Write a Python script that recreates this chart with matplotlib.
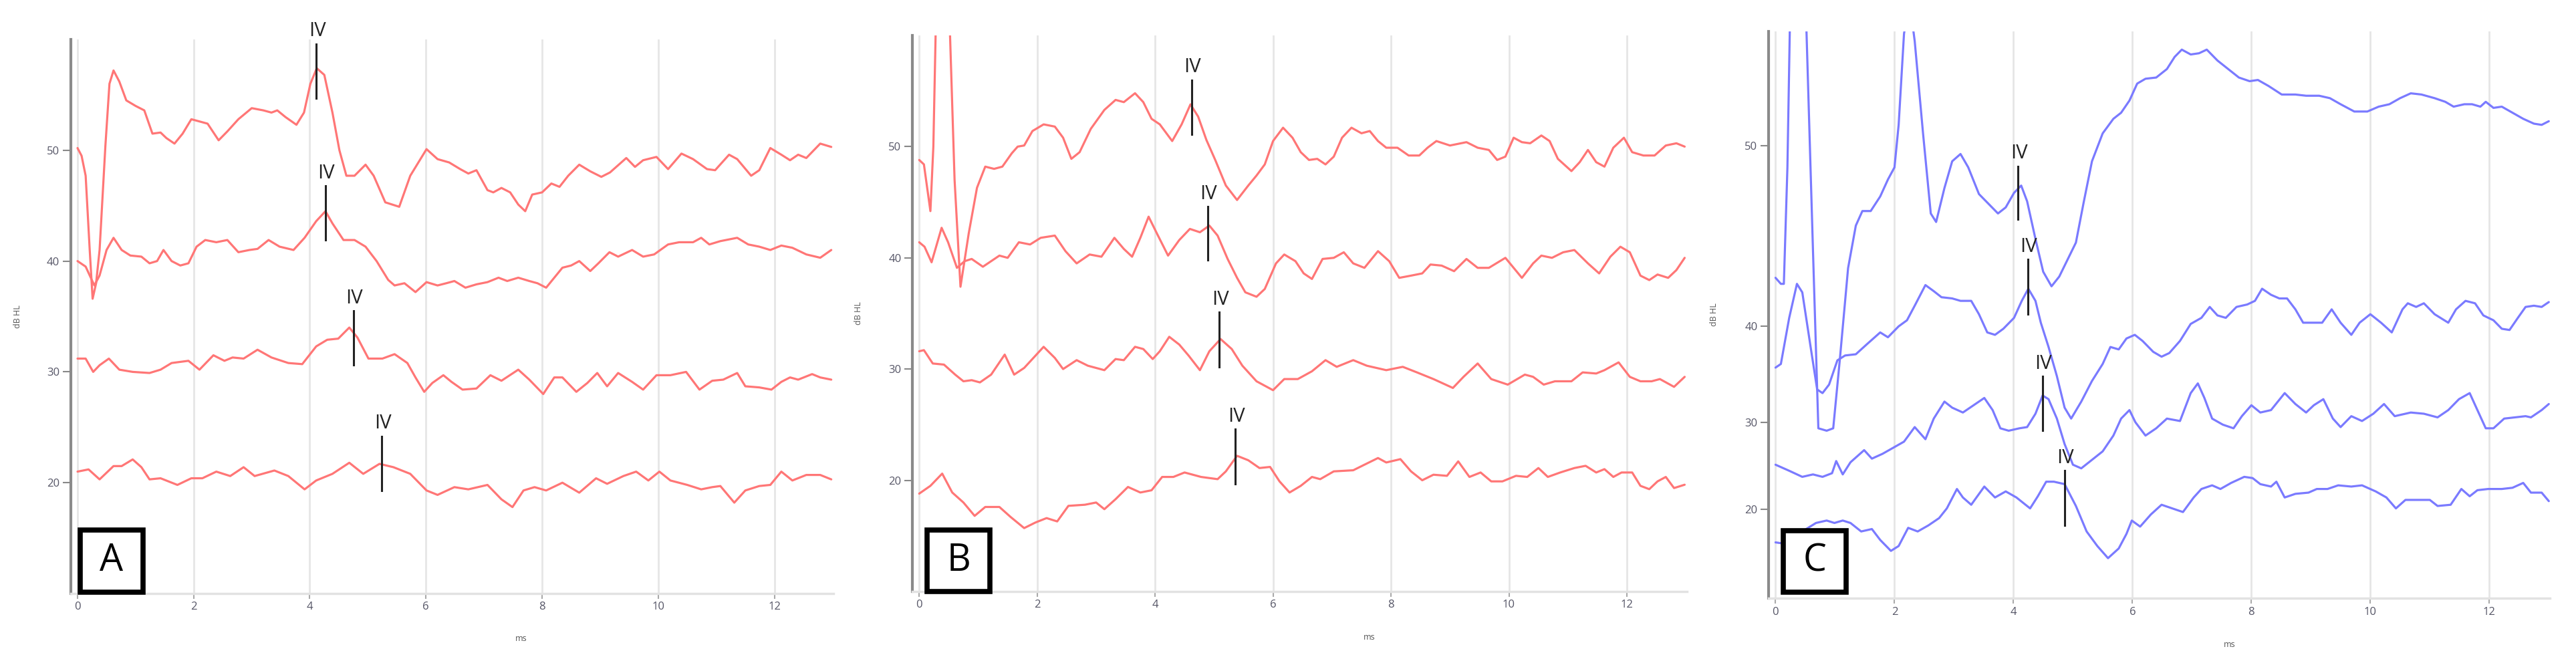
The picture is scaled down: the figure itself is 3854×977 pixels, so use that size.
import matplotlib
matplotlib.use("Agg")
import matplotlib.pyplot as plt
from matplotlib.patches import Rectangle

plt.rcParams['font.family'] = ['Open Sans', 'DejaVu Sans']

# ---- panel A (red) ----
a1_ms = [0, 0.07, 0.14, 0.21, 0.26, 0.32, 0.38, 0.48, 0.55, 0.62, 0.72, 0.84, 1.0, 1.15, 1.29, 1.43, 1.53, 1.67, 1.81, 1.96, 2.1, 2.24, 2.43, 2.58, 2.77, 3.0, 3.2, 3.34, 3.44, 3.58, 3.77, 3.9, 4.01, 4.12, 4.25, 4.39, 4.51, 4.63, 4.77, 4.96, 5.1, 5.3, 5.54, 5.73, 6.01, 6.2, 6.4, 6.59, 6.73, 6.87, 7.06, 7.16, 7.3, 7.45, 7.59, 7.71, 7.83, 8.0, 8.16, 8.3, 8.45, 8.64, 8.83, 9.02, 9.17, 9.45, 9.6, 9.74, 9.97, 10.17, 10.4, 10.6, 10.84, 10.98, 11.22, 11.36, 11.6, 11.74, 11.93, 12.12, 12.27, 12.41, 12.55, 12.79, 12.98]
a1_db = [50.2, 49.5, 47.7, 41.0, 36.6, 38.0, 41.0, 50.4, 56.0, 57.2, 56.2, 54.5, 54.0, 53.6, 51.5, 51.6, 51.1, 50.6, 51.5, 52.8, 52.6, 52.4, 50.9, 51.7, 52.8, 53.8, 53.6, 53.4, 53.6, 53.0, 52.3, 53.4, 56.0, 57.4, 56.8, 53.4, 50.0, 47.7, 47.7, 48.7, 47.7, 45.3, 44.9, 47.7, 50.1, 49.2, 48.9, 48.3, 47.9, 48.2, 46.4, 46.2, 46.6, 46.2, 45.1, 44.5, 46.0, 46.2, 47.0, 46.7, 47.7, 48.7, 48.1, 47.6, 48.0, 49.3, 48.5, 49.1, 49.4, 48.3, 49.7, 49.2, 48.3, 48.2, 49.6, 49.2, 47.7, 48.2, 50.2, 49.6, 49.1, 49.6, 49.3, 50.6, 50.3]

a2_ms = [0, 0.14, 0.29, 0.38, 0.5, 0.62, 0.76, 0.91, 1.1, 1.24, 1.37, 1.48, 1.62, 1.77, 1.91, 2.05, 2.2, 2.39, 2.58, 2.77, 2.96, 3.1, 3.29, 3.48, 3.72, 3.91, 4.11, 4.27, 4.39, 4.58, 4.77, 4.96, 5.15, 5.35, 5.46, 5.63, 5.82, 6.01, 6.2, 6.35, 6.49, 6.68, 6.87, 7.06, 7.25, 7.4, 7.59, 7.78, 7.92, 8.07, 8.21, 8.35, 8.5, 8.64, 8.83, 8.97, 9.16, 9.31, 9.55, 9.74, 9.93, 10.17, 10.36, 10.6, 10.74, 10.88, 11.07, 11.36, 11.55, 11.74, 11.93, 12.12, 12.31, 12.55, 12.79, 12.98]
a2_db = [40.0, 39.5, 37.8, 38.7, 41.0, 42.1, 41.0, 40.5, 40.4, 39.8, 40.0, 41.0, 40.0, 39.6, 39.8, 41.3, 41.9, 41.7, 41.9, 40.8, 41.0, 41.1, 41.9, 41.3, 41.0, 42.1, 43.6, 44.5, 43.4, 41.9, 41.9, 41.3, 40.0, 38.3, 37.8, 38.0, 37.2, 38.1, 37.8, 38.0, 38.2, 37.6, 37.9, 38.1, 38.5, 38.2, 38.5, 38.2, 38.0, 37.6, 38.5, 39.4, 39.6, 40.0, 39.1, 39.8, 40.8, 40.4, 41.0, 40.4, 40.6, 41.5, 41.7, 41.7, 42.1, 41.5, 41.8, 42.1, 41.5, 41.3, 41.0, 41.4, 41.2, 40.6, 40.3, 41.0]

a3_ms = [0, 0.14, 0.27, 0.38, 0.54, 0.72, 0.95, 1.24, 1.43, 1.62, 1.91, 2.1, 2.34, 2.53, 2.67, 2.86, 3.1, 3.34, 3.63, 3.87, 4.11, 4.3, 4.49, 4.68, 4.82, 5.01, 5.25, 5.46, 5.68, 5.82, 5.97, 6.11, 6.3, 6.44, 6.63, 6.87, 7.11, 7.3, 7.59, 7.78, 8.02, 8.21, 8.35, 8.59, 8.78, 8.95, 9.12, 9.31, 9.55, 9.74, 9.97, 10.21, 10.48, 10.71, 10.93, 11.12, 11.36, 11.5, 11.74, 11.95, 12.12, 12.27, 12.41, 12.65, 12.79, 12.98]
a3_db = [31.2, 31.2, 30.0, 30.6, 31.2, 30.2, 30.0, 29.9, 30.2, 30.8, 31.0, 30.2, 31.5, 31.0, 31.3, 31.2, 32.0, 31.3, 30.8, 30.7, 32.3, 32.9, 33.0, 34.0, 33.1, 31.2, 31.2, 31.6, 30.8, 29.5, 28.2, 29.0, 29.7, 29.1, 28.4, 28.5, 29.7, 29.2, 30.2, 29.3, 28.0, 29.5, 29.5, 28.2, 29.0, 29.9, 28.7, 29.9, 29.1, 28.4, 29.7, 29.7, 30.0, 28.4, 29.2, 29.3, 29.9, 28.7, 28.6, 28.4, 29.1, 29.5, 29.3, 29.8, 29.5, 29.3]

a4_ms = [0, 0.19, 0.38, 0.62, 0.76, 0.95, 1.1, 1.24, 1.43, 1.72, 1.96, 2.15, 2.39, 2.63, 2.86, 3.05, 3.39, 3.63, 3.91, 4.11, 4.39, 4.68, 4.92, 5.2, 5.44, 5.73, 6.01, 6.2, 6.49, 6.73, 7.06, 7.3, 7.49, 7.68, 7.87, 8.07, 8.35, 8.64, 8.93, 9.12, 9.4, 9.62, 9.83, 10.02, 10.21, 10.5, 10.74, 10.93, 11.07, 11.31, 11.5, 11.74, 11.93, 12.12, 12.31, 12.55, 12.79, 12.98]
a4_db = [21.0, 21.2, 20.3, 21.5, 21.5, 22.1, 21.4, 20.3, 20.4, 19.8, 20.4, 20.4, 21.0, 20.6, 21.4, 20.6, 21.1, 20.6, 19.4, 20.2, 20.8, 21.8, 20.8, 21.7, 21.4, 20.8, 19.3, 18.9, 19.6, 19.4, 19.8, 18.5, 17.8, 19.3, 19.6, 19.3, 20.0, 19.1, 20.4, 19.9, 20.6, 21.0, 20.2, 21.0, 20.2, 19.8, 19.4, 19.6, 19.7, 18.2, 19.3, 19.7, 19.8, 21.0, 20.2, 20.7, 20.7, 20.3]

a_iv_ms = [4.11, 4.27, 4.75, 5.24]
a_iv_top = [59.6, 46.8, 35.5, 24.2]
a_iv_bot = [54.7, 41.9, 30.6, 19.3]

# ---- panel B (red) ----
b1_ms = [0, 0.08, 0.19, 0.24, 0.28, 0.39, 0.52, 0.6, 0.7, 0.84, 0.98, 1.12, 1.27, 1.41, 1.57, 1.67, 1.78, 1.92, 2.11, 2.3, 2.44, 2.58, 2.72, 2.91, 3.14, 3.33, 3.47, 3.66, 3.8, 3.94, 4.08, 4.29, 4.45, 4.6, 4.73, 4.87, 5.02, 5.2, 5.39, 5.58, 5.72, 5.86, 6.0, 6.17, 6.33, 6.47, 6.61, 6.75, 6.89, 7.03, 7.17, 7.33, 7.5, 7.64, 7.78, 7.92, 8.11, 8.3, 8.48, 8.62, 8.77, 9.0, 9.28, 9.47, 9.66, 9.8, 9.94, 10.08, 10.22, 10.36, 10.55, 10.69, 10.83, 11.06, 11.2, 11.34, 11.48, 11.62, 11.77, 11.95, 12.09, 12.28, 12.47, 12.66, 12.84, 12.98]
b1_db = [48.8, 48.4, 44.2, 50.0, 60.5, 66.0, 60.5, 47.0, 37.4, 42.2, 46.3, 48.2, 48.0, 48.2, 49.4, 50.0, 50.1, 51.4, 52.0, 51.8, 50.8, 48.9, 49.5, 51.6, 53.3, 54.2, 54.0, 54.8, 54.0, 52.5, 52.0, 50.5, 52.0, 53.8, 52.7, 50.6, 48.8, 46.5, 45.2, 46.5, 47.4, 48.4, 50.5, 51.7, 50.8, 49.5, 48.8, 48.9, 48.4, 49.1, 50.8, 51.7, 51.2, 51.4, 50.5, 49.9, 49.9, 49.2, 49.2, 49.9, 50.5, 50.1, 50.4, 49.9, 49.7, 48.8, 49.1, 50.8, 50.4, 50.3, 51.0, 50.5, 48.9, 47.8, 48.6, 49.7, 48.6, 48.2, 49.9, 50.8, 49.5, 49.2, 49.2, 50.1, 50.3, 50.0]

b2_ms = [0, 0.09, 0.21, 0.38, 0.49, 0.64, 0.77, 0.89, 1.08, 1.22, 1.36, 1.5, 1.69, 1.88, 2.06, 2.3, 2.48, 2.67, 2.89, 3.09, 3.31, 3.47, 3.61, 3.75, 3.89, 4.03, 4.22, 4.41, 4.59, 4.76, 4.92, 5.06, 5.23, 5.39, 5.53, 5.72, 5.86, 6.05, 6.19, 6.38, 6.52, 6.66, 6.84, 7.03, 7.2, 7.36, 7.55, 7.78, 7.97, 8.14, 8.34, 8.53, 8.67, 8.86, 9.07, 9.28, 9.47, 9.66, 9.94, 10.22, 10.41, 10.55, 10.73, 10.92, 11.11, 11.34, 11.53, 11.72, 11.89, 12.05, 12.23, 12.38, 12.52, 12.7, 12.84, 12.98]
b2_db = [41.4, 41.0, 39.6, 42.7, 41.4, 39.1, 39.7, 39.9, 39.2, 39.7, 40.2, 40.0, 41.4, 41.2, 41.8, 42.0, 40.6, 39.5, 40.3, 40.1, 41.8, 40.8, 40.1, 41.8, 43.7, 42.2, 40.2, 41.6, 42.6, 42.3, 42.9, 42.0, 39.9, 38.2, 36.9, 36.5, 37.2, 39.5, 40.3, 39.7, 38.6, 38.1, 39.9, 40.0, 40.5, 39.5, 39.1, 40.6, 39.7, 38.2, 38.4, 38.6, 39.4, 39.3, 38.8, 39.9, 39.1, 39.1, 40.0, 38.2, 39.5, 40.2, 40.0, 40.5, 40.7, 39.5, 38.6, 40.1, 41.0, 40.5, 38.4, 38.0, 38.5, 38.2, 38.9, 40.0]

b3_ms = [0, 0.08, 0.23, 0.42, 0.61, 0.75, 0.89, 1.03, 1.22, 1.45, 1.61, 1.78, 2.11, 2.3, 2.44, 2.67, 2.86, 3.14, 3.33, 3.47, 3.66, 3.8, 3.96, 4.08, 4.24, 4.41, 4.57, 4.76, 4.92, 5.11, 5.3, 5.48, 5.72, 6.0, 6.19, 6.42, 6.66, 6.89, 7.08, 7.36, 7.59, 7.92, 8.2, 8.44, 8.72, 9.05, 9.23, 9.47, 9.7, 9.98, 10.27, 10.41, 10.59, 10.78, 11.06, 11.25, 11.48, 11.62, 11.86, 12.05, 12.23, 12.42, 12.56, 12.8, 12.98]
b3_db = [31.6, 31.7, 30.5, 30.4, 29.5, 28.9, 29.0, 28.8, 29.5, 31.3, 29.5, 30.1, 32.0, 31.0, 30.0, 30.8, 30.3, 29.9, 30.9, 30.8, 32.0, 31.8, 30.9, 31.6, 32.9, 32.2, 31.2, 29.9, 31.6, 32.7, 31.8, 30.3, 28.9, 28.1, 29.1, 29.1, 29.8, 30.8, 30.2, 30.8, 30.3, 29.9, 30.2, 29.7, 29.1, 28.3, 29.3, 30.5, 29.1, 28.6, 29.5, 29.3, 28.6, 28.9, 28.9, 29.7, 29.6, 29.9, 30.6, 29.3, 28.9, 28.9, 29.1, 28.4, 29.3]

b4_ms = [0, 0.19, 0.39, 0.56, 0.75, 0.94, 1.12, 1.36, 1.55, 1.78, 1.97, 2.16, 2.34, 2.53, 2.81, 3.0, 3.14, 3.33, 3.54, 3.75, 3.94, 4.12, 4.31, 4.5, 4.78, 5.06, 5.2, 5.39, 5.58, 5.77, 5.95, 6.11, 6.28, 6.47, 6.66, 6.8, 7.03, 7.36, 7.55, 7.78, 7.92, 8.16, 8.34, 8.53, 8.72, 8.95, 9.14, 9.33, 9.52, 9.7, 9.89, 10.12, 10.31, 10.5, 10.66, 10.87, 11.11, 11.3, 11.48, 11.62, 11.77, 11.91, 12.09, 12.23, 12.38, 12.52, 12.66, 12.8, 12.98]
b4_db = [18.8, 19.5, 20.6, 18.9, 18.0, 16.8, 17.6, 17.6, 16.7, 15.7, 16.2, 16.6, 16.3, 17.7, 17.8, 18.0, 17.4, 18.3, 19.4, 18.9, 19.1, 20.3, 20.3, 20.7, 20.3, 20.1, 20.8, 22.2, 21.8, 21.1, 21.2, 19.9, 18.9, 19.5, 20.3, 20.1, 20.8, 20.9, 21.4, 22.0, 21.6, 21.9, 20.8, 20.0, 20.5, 20.4, 21.7, 20.3, 20.7, 19.9, 19.9, 20.4, 20.3, 21.1, 20.3, 20.7, 21.1, 21.3, 20.7, 21.0, 20.3, 20.7, 20.7, 19.5, 19.2, 19.9, 20.3, 19.3, 19.6]

b_iv_ms = [4.62, 4.89, 5.09, 5.36]
b_iv_top = [56.0, 44.6, 35.1, 24.6]
b_iv_bot = [51.1, 39.8, 30.2, 19.7]

# ---- panel C (blue); its dB HL ticks are not evenly spaced ----
c1_ms = [0, 0.09, 0.14, 0.2, 0.24, 0.38, 0.52, 0.63, 0.72, 0.86, 0.97, 1.08, 1.22, 1.35, 1.46, 1.6, 1.76, 1.89, 2.0, 2.07, 2.16, 2.25, 2.34, 2.48, 2.61, 2.7, 2.84, 2.97, 3.11, 3.24, 3.42, 3.6, 3.74, 3.87, 4.01, 4.13, 4.23, 4.37, 4.5, 4.64, 4.77, 4.91, 5.05, 5.18, 5.32, 5.5, 5.68, 5.81, 5.95, 6.08, 6.22, 6.4, 6.58, 6.71, 6.83, 6.98, 7.12, 7.25, 7.43, 7.61, 7.79, 7.97, 8.11, 8.29, 8.51, 8.74, 8.92, 9.14, 9.32, 9.5, 9.73, 9.95, 10.14, 10.32, 10.5, 10.68, 10.86, 11.08, 11.26, 11.4, 11.58, 11.71, 11.85, 11.94, 12.07, 12.21, 12.39, 12.57, 12.75, 12.88, 13.0]
c1_db = [39.1, 38.6, 38.6, 48.2, 59.5, 66.0, 59.5, 41.3, 26.7, 26.5, 26.7, 32.3, 39.9, 43.4, 44.6, 44.6, 45.8, 47.2, 48.2, 51.7, 59.2, 62.0, 58.6, 51.0, 44.4, 43.7, 46.5, 48.7, 49.3, 48.2, 46.0, 45.1, 44.4, 44.9, 46.1, 46.7, 45.4, 42.3, 39.6, 38.4, 39.2, 40.6, 42.0, 45.3, 48.7, 51.0, 52.2, 52.7, 53.7, 55.1, 55.5, 55.6, 56.3, 57.3, 57.9, 57.5, 57.6, 57.9, 57.0, 56.3, 55.6, 55.3, 55.4, 54.9, 54.2, 54.2, 54.1, 54.1, 53.9, 53.4, 52.8, 52.8, 53.2, 53.4, 53.9, 54.3, 54.2, 53.9, 53.6, 53.2, 53.4, 53.4, 53.2, 53.6, 53.1, 53.2, 52.7, 52.2, 51.8, 51.7, 52.0]

c2_ms = [0, 0.09, 0.23, 0.36, 0.45, 0.59, 0.7, 0.79, 0.9, 1.04, 1.17, 1.35, 1.53, 1.76, 1.89, 2.07, 2.21, 2.34, 2.52, 2.66, 2.79, 2.97, 3.11, 3.29, 3.42, 3.56, 3.69, 3.83, 4.01, 4.14, 4.25, 4.37, 4.46, 4.59, 4.73, 4.86, 4.97, 5.14, 5.32, 5.5, 5.63, 5.77, 5.9, 6.04, 6.17, 6.35, 6.49, 6.62, 6.8, 6.98, 7.16, 7.3, 7.43, 7.57, 7.75, 7.93, 8.06, 8.18, 8.33, 8.47, 8.6, 8.74, 8.87, 9.05, 9.19, 9.35, 9.5, 9.68, 9.82, 10.0, 10.18, 10.36, 10.54, 10.63, 10.77, 10.9, 11.08, 11.31, 11.44, 11.6, 11.76, 11.9, 12.07, 12.21, 12.34, 12.48, 12.61, 12.75, 12.88, 13.0]
c2_db = [31.7, 32.0, 35.8, 38.6, 37.9, 33.4, 29.9, 29.6, 30.3, 32.3, 32.7, 32.8, 33.6, 34.6, 34.2, 35.1, 35.6, 36.8, 38.5, 38.0, 37.5, 37.4, 37.2, 37.2, 36.1, 34.6, 34.4, 34.9, 35.8, 37.2, 38.2, 37.2, 35.4, 33.4, 31.0, 28.4, 27.5, 28.9, 30.6, 32.0, 33.4, 33.2, 34.1, 34.4, 33.9, 33.0, 32.6, 32.9, 33.9, 35.3, 35.8, 36.7, 36.0, 35.8, 36.7, 36.9, 37.2, 38.2, 37.7, 37.4, 37.4, 36.5, 35.4, 35.4, 35.4, 36.5, 35.4, 34.4, 35.4, 36.1, 35.4, 34.6, 36.5, 37.0, 36.7, 37.0, 36.1, 35.4, 36.5, 37.2, 37.0, 36.0, 35.6, 34.9, 34.8, 35.8, 36.7, 36.8, 36.7, 37.1]

c3_ms = [0, 0.23, 0.45, 0.63, 0.79, 0.95, 1.02, 1.13, 1.26, 1.49, 1.62, 1.8, 1.98, 2.16, 2.34, 2.52, 2.66, 2.84, 2.97, 3.15, 3.33, 3.51, 3.65, 3.78, 3.92, 4.1, 4.23, 4.37, 4.49, 4.59, 4.73, 4.86, 5.0, 5.14, 5.32, 5.5, 5.68, 5.81, 5.95, 6.05, 6.22, 6.4, 6.58, 6.8, 6.98, 7.1, 7.21, 7.34, 7.52, 7.7, 7.84, 8.0, 8.15, 8.33, 8.56, 8.74, 8.92, 9.05, 9.21, 9.37, 9.5, 9.68, 9.86, 10.05, 10.23, 10.41, 10.68, 10.9, 11.13, 11.31, 11.49, 11.67, 11.8, 11.94, 12.07, 12.25, 12.43, 12.61, 12.7, 12.88, 13.0]
c3_db = [23.7, 23.2, 22.7, 22.9, 22.7, 23.0, 24.0, 22.9, 23.9, 24.9, 24.2, 24.6, 25.1, 25.6, 26.8, 25.8, 27.5, 28.9, 28.4, 28.0, 28.6, 29.2, 28.2, 26.7, 26.5, 26.7, 26.8, 27.9, 29.4, 29.1, 27.5, 25.4, 23.7, 23.4, 24.1, 24.8, 26.1, 27.5, 28.2, 27.2, 26.1, 26.7, 27.5, 27.3, 29.6, 30.4, 29.2, 27.5, 27.0, 26.7, 27.7, 28.6, 28.0, 28.2, 29.6, 28.7, 28.0, 28.6, 29.1, 27.5, 26.8, 27.7, 27.3, 27.9, 28.7, 27.7, 28.0, 27.9, 27.6, 28.2, 29.1, 29.6, 28.2, 26.7, 26.7, 27.5, 27.6, 27.7, 27.6, 28.2, 28.7]

c4_ms = [0, 0.14, 0.27, 0.45, 0.68, 0.86, 0.99, 1.13, 1.26, 1.44, 1.62, 1.76, 1.94, 2.07, 2.23, 2.39, 2.57, 2.75, 2.88, 3.05, 3.15, 3.29, 3.51, 3.69, 3.87, 4.05, 4.28, 4.41, 4.55, 4.68, 4.86, 5.05, 5.23, 5.41, 5.59, 5.77, 5.9, 5.99, 6.13, 6.31, 6.49, 6.67, 6.85, 7.03, 7.16, 7.34, 7.48, 7.66, 7.88, 8.02, 8.15, 8.33, 8.42, 8.56, 8.74, 8.96, 9.1, 9.28, 9.46, 9.68, 9.86, 10.09, 10.27, 10.43, 10.59, 10.77, 11.0, 11.13, 11.35, 11.53, 11.67, 11.8, 11.98, 12.21, 12.39, 12.57, 12.7, 12.88, 13.0]
c4_db = [17.3, 17.2, 17.5, 18.2, 18.9, 19.1, 18.9, 19.1, 18.9, 18.2, 18.4, 17.5, 16.6, 17.0, 18.5, 18.2, 18.7, 19.3, 20.1, 21.7, 21.0, 20.4, 21.9, 21.0, 21.5, 21.0, 20.1, 21.1, 22.3, 22.3, 22.1, 20.3, 18.2, 17.0, 16.0, 16.8, 18.0, 19.1, 18.6, 19.6, 20.4, 20.1, 19.8, 21.0, 21.7, 22.0, 21.7, 22.2, 22.7, 22.6, 22.1, 21.9, 22.3, 21.0, 21.3, 21.4, 21.7, 21.7, 22.0, 21.9, 22.0, 21.5, 21.0, 20.1, 20.8, 20.8, 20.8, 20.3, 20.4, 21.7, 21.1, 21.6, 21.7, 21.7, 21.8, 22.2, 21.4, 21.4, 20.7]

c_iv_ms = [4.08, 4.24, 4.49, 4.86]
c_iv_top = [48.3, 40.6, 31.0, 23.2]
c_iv_bot = [43.9, 36.1, 26.5, 18.7]
c_tick_pos = [20, 27.2, 35.1, 50]
c_tick_lab = ['20', '30', '40', '50']

x_ticks = [0, 2, 4, 6, 8, 10, 12]
RED = '#ff7676'
BLUE = '#7a7aff'

fig = plt.figure(figsize=(38.54, 9.77), dpi=100)


def panel(rect, traces, color, iv_ms, iv_top, iv_bot, letter, ylim, yticks, yticklabels, box):
    ax = fig.add_axes(rect)
    for t, v in traces:
        ax.plot(t, v, color=color, lw=2.3, zorder=3,
                solid_joinstyle='round', solid_capstyle='round')
    for x, top, bot in zip(iv_ms, iv_top, iv_bot):
        ax.plot([x, x], [bot, top], color='#222222', lw=2.2, zorder=4, clip_on=False)
        ax.annotate('IV', (x, top), xytext=(1, 3), textcoords='offset points',
                    ha='center', va='bottom', fontsize=21, color='#222222',
                    annotation_clip=False)
    ax.set_xlim(-0.115, 13.02)
    ax.set_ylim(*ylim)
    ax.set_xticks(x_ticks)
    ax.set_xticklabels([str(x) for x in x_ticks])
    ax.set_yticks(yticks)
    ax.set_yticklabels(yticklabels)
    ax.grid(axis='x', color='#e6e6e6', lw=2, zorder=0)
    for s in ['top', 'right']:
        ax.spines[s].set_visible(False)
    ax.spines['left'].set_color('#8a8a8a')
    ax.spines['left'].set_linewidth(3)
    ax.spines['bottom'].set_color('#e2e2e2')
    ax.spines['bottom'].set_linewidth(2.5)
    ax.tick_params(axis='x', length=6, width=1.5, color='#aaaaaa', labelsize=12,
                   labelcolor='#555566', pad=3)
    ax.tick_params(axis='y', length=9, width=1.5, color='#888888', labelsize=12,
                   labelcolor='#555566', pad=3)
    ax.set_xlabel('ms', fontsize=9, color='#555555')
    ax.xaxis.set_label_coords(0.59, -0.074)
    ax.set_ylabel('dB HL', fontsize=9, color='#555555')
    ax.yaxis.set_label_coords(-0.064, 0.5)
    ax.add_patch(Rectangle((box[0], box[1]), box[2], box[3], transform=ax.transAxes,
                           facecolor='white', edgecolor='black', lw=5.5, zorder=6,
                           clip_on=False))
    ax.text(box[0] + box[2] / 2, box[1] + box[3] / 2, letter, transform=ax.transAxes,
            ha='center', va='center', fontsize=40, color='black', zorder=7)
    return ax


panel([0.0275, 0.0911, 0.2961, 0.8485],
      [(a1_ms, a1_db), (a2_ms, a2_db), (a3_ms, a3_db), (a4_ms, a4_db)], RED,
      a_iv_ms, a_iv_top, a_iv_bot, 'A', (10, 60), [20, 30, 40, 50],
      ['20', '30', '40', '50'], (0.012, 0.003, 0.083, 0.111))

panel([0.3542, 0.0942, 0.3007, 0.8516],
      [(b1_ms, b1_db), (b2_ms, b2_db), (b3_ms, b3_db), (b4_ms, b4_db)], RED,
      b_iv_ms, b_iv_top, b_iv_bot, 'B', (10, 60), [20, 30, 40, 50],
      ['20', '30', '40', '50'], (0.019, 0.0, 0.081, 0.11))

panel([0.6866, 0.0839, 0.3033, 0.8680],
      [(c1_ms, c1_db), (c2_ms, c2_db), (c3_ms, c3_db), (c4_ms, c4_db)], BLUE,
      c_iv_ms, c_iv_top, c_iv_bot, 'C', (12.7, 59.4), c_tick_pos, c_tick_lab,
      (0.019, 0.011, 0.080, 0.108))

fig.savefig('out.png', dpi=100, facecolor='white')
